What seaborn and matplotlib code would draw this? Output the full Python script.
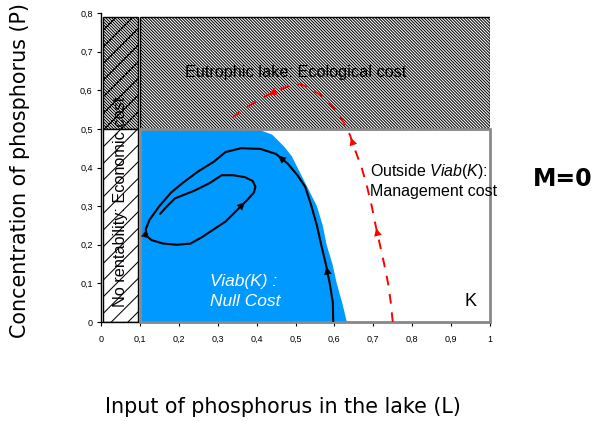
import matplotlib
matplotlib.use("Agg")
import matplotlib.pyplot as plt
from matplotlib.patches import Rectangle
from matplotlib.ticker import FuncFormatter
import seaborn as sns
import pandas as pd

# ---------------- data ----------------
# viability kernel boundary (blue region)
viab_x = [0.10, 0.10, 0.40, 0.44, 0.47, 0.49, 0.51, 0.53, 0.555, 0.57, 0.58, 0.595, 0.606, 0.62, 0.632]
viab_y = [0.00, 0.50, 0.50, 0.485, 0.455, 0.43, 0.39, 0.35, 0.30, 0.25, 0.20, 0.15, 0.10, 0.05, 0.00]

# black trajectory (inside Viab(K))
traj_x = [0.597, 0.596, 0.588, 0.578, 0.566, 0.555, 0.541, 0.525, 0.505, 0.48, 0.45, 0.41, 0.36,
          0.32, 0.29, 0.25, 0.21, 0.18, 0.15, 0.125, 0.115, 0.118, 0.13, 0.16, 0.195, 0.23, 0.26,
          0.29, 0.32, 0.35, 0.375, 0.393, 0.397, 0.39, 0.37, 0.34, 0.31, 0.28, 0.24, 0.19, 0.17, 0.152]
traj_y = [0.0, 0.05, 0.10, 0.15, 0.20, 0.25, 0.30, 0.35, 0.38, 0.41, 0.435, 0.448, 0.45,
          0.44, 0.415, 0.39, 0.36, 0.335, 0.30, 0.265, 0.24, 0.222, 0.212, 0.203, 0.20, 0.203, 0.22,
          0.24, 0.26, 0.29, 0.315, 0.335, 0.35, 0.365, 0.375, 0.38, 0.38, 0.36, 0.34, 0.32, 0.30, 0.28]
traj_arrows = [2, 9, 21, 29]

# red dashed trajectory (outside Viab(K))
red_x = [0.75, 0.745, 0.738, 0.728, 0.717, 0.706, 0.696, 0.684, 0.67, 0.655, 0.64, 0.625, 0.606,
         0.585, 0.563, 0.535, 0.51, 0.48, 0.452, 0.425, 0.40, 0.37, 0.34]
red_y = [0.0, 0.05, 0.10, 0.15, 0.20, 0.25, 0.30, 0.35, 0.40, 0.44, 0.484, 0.515, 0.544,
         0.57, 0.588, 0.607, 0.616, 0.61, 0.598, 0.586, 0.572, 0.553, 0.531]
red_arrows = [4, 9, 18]

# constraint thresholds
L_min = 0.1
P_max = 0.5
P_top = 0.79
L_max = 1.0

x_ticks = [0, 0.1, 0.2, 0.3, 0.4, 0.5, 0.6, 0.7, 0.8, 0.9, 1.0]
y_ticks = [0, 0.1, 0.2, 0.3, 0.4, 0.5, 0.6, 0.7, 0.8]

# ---------------- style ----------------
sns.set_theme(style="white")
plt.rcParams["font.family"] = ["Liberation Sans", "DejaVu Sans"]
plt.rcParams["hatch.linewidth"] = 0.75
plt.rcParams["text.color"] = "black"
plt.rcParams["xtick.color"] = "black"
plt.rcParams["ytick.color"] = "black"
plt.rcParams["mathtext.fontset"] = "custom"
plt.rcParams["mathtext.rm"] = "Liberation Sans"
plt.rcParams["mathtext.it"] = "Liberation Sans:italic"

fig = plt.figure(figsize=(5.95, 4.21), dpi=100)
ax = fig.add_axes([101 / 595, 1 - 322 / 421, 389 / 595, 309 / 421])
ax.set_xlim(0, 1)
ax.set_ylim(0, 0.8)

# blue viability kernel
ax.fill(viab_x, viab_y, color="#0099FF", lw=0, zorder=1)

# K box (gray border)
ax.add_patch(Rectangle((L_min, 0), L_max - L_min, P_max, fill=False, edgecolor="#8a8a8a",
                       lw=2, zorder=3, clip_on=False))
# eutrophic region
ax.add_patch(Rectangle((L_min, P_max), L_max - L_min, P_top - P_max, facecolor="white",
                       edgecolor="black", hatch="\\" * 11, lw=1, zorder=2))
# no rentability column
ax.add_patch(Rectangle((0.005, P_max), L_min - 0.01, P_top - P_max, facecolor="white",
                       edgecolor="black", hatch="//" + "\\" * 11, lw=1, zorder=2))
ax.add_patch(Rectangle((0.005, 0), L_min - 0.01, P_max, facecolor="white",
                       edgecolor="black", hatch="//", lw=1, zorder=2))

# trajectories
df_traj = pd.DataFrame({"L": traj_x, "P": traj_y})
df_red = pd.DataFrame({"L": red_x, "P": red_y})
sns.lineplot(data=df_traj, x="L", y="P", sort=False, estimator=None, color="black",
             lw=1.5, ax=ax, zorder=5)
sns.lineplot(data=df_red, x="L", y="P", sort=False, estimator=None, color="red",
             lw=1.4, ax=ax, zorder=5, dashes=False)
ax.lines[-1].set_dashes((5, 4.5))

for i in traj_arrows:
    ax.annotate("", xy=(traj_x[i + 1], traj_y[i + 1]), xytext=(traj_x[i], traj_y[i]),
                arrowprops=dict(arrowstyle="-|>", color="black", lw=0, mutation_scale=14),
                zorder=6)
for i in red_arrows:
    ax.annotate("", xy=(red_x[i + 1], red_y[i + 1]), xytext=(red_x[i], red_y[i]),
                arrowprops=dict(arrowstyle="-|>", color="red", lw=0, mutation_scale=14),
                zorder=6)

# texts inside
ax.text(0.5, 0.647, "Eutrophic lake: Ecological cost", ha="center", va="center",
        fontsize=11.7, color="black", zorder=7)
ax.text(0.049, 0.311, "No rentability: Economic cost", rotation=90, ha="center",
        va="center", fontsize=11.7, color="black", zorder=7)
ax.text(0.692, 0.389, r"Outside $\mathit{Viab(K)}$:", ha="left", va="center",
        fontsize=11.5, color="black", zorder=7)
ax.text(0.692, 0.337, "Management cost", ha="left", va="center", fontsize=11.5,
        color="black", zorder=7, clip_on=False)
ax.text(0.281, 0.104, "Viab(K) :", ha="left", va="center", fontsize=12.5, style="italic",
        color="white", zorder=7)
ax.text(0.281, 0.054, "Null Cost", ha="left", va="center", fontsize=12.5, style="italic",
        color="white", zorder=7)
ax.text(0.949, 0.054, "K", ha="center", va="center", fontsize=13, color="black", zorder=7)

# axes styling
for s in ["top", "right"]:
    ax.spines[s].set_visible(False)
for s in ["left", "bottom"]:
    ax.spines[s].set_color("black")
    ax.spines[s].set_linewidth(1)
ax.set_xticks(x_ticks)
ax.set_yticks(y_ticks)
fmt = FuncFormatter(lambda v, p: ("%g" % round(v, 1)).replace(".", ","))
ax.xaxis.set_major_formatter(fmt)
ax.yaxis.set_major_formatter(fmt)
ax.tick_params(axis="both", direction="out", length=3, width=0.8, color="black",
               labelcolor="black", labelsize=6.5, bottom=True, left=True)
ax.tick_params(axis="x", pad=6)
ax.tick_params(axis="y", pad=3)
ax.set_xlabel("")
ax.set_ylabel("")
ax.grid(False)

# outer labels
fig.text(283 / 595, 1 - 407 / 421, "Input of phosphorus in the lake (L)", ha="center",
         va="center", fontsize=14.9, family="DejaVu Sans", color="black")
fig.text(20 / 595, 1 - 170 / 421, "Concentration of phosphorus (P)", ha="center",
         va="center", rotation=90, fontsize=14.9, family="DejaVu Sans", color="black")
fig.text(563 / 595, 1 - 179 / 421, "M=0", ha="center", va="center", fontsize=17,
         fontweight="bold", family="DejaVu Sans", color="black")

fig.savefig("out.png", dpi=100)
